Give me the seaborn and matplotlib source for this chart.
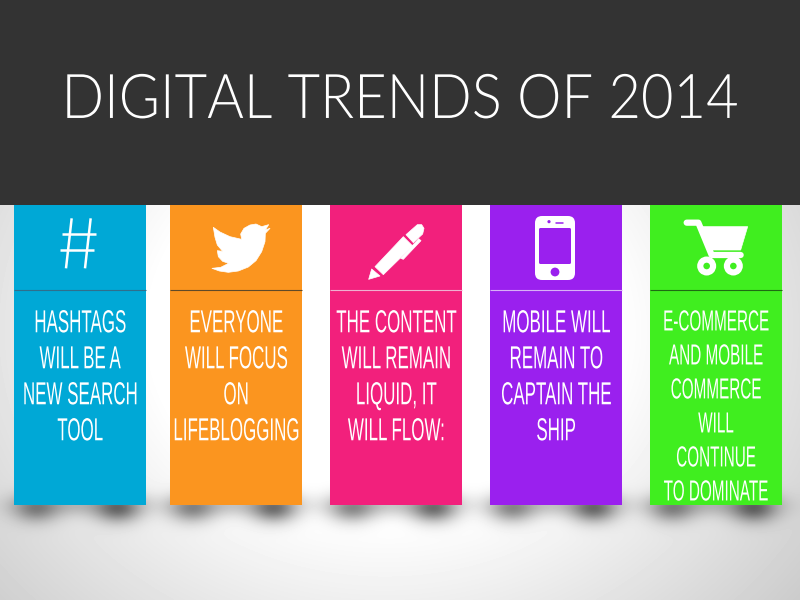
import matplotlib
matplotlib.use('Agg')
import matplotlib.pyplot as plt
import matplotlib.patheffects as pe
from matplotlib.patches import Polygon, FancyBboxPatch, Circle, Rectangle
from matplotlib.transforms import Affine2D
import numpy as np
import pandas as pd
import seaborn as sns

title = 'DIGITAL TRENDS OF 2014'
card_names = ['hashtags', 'twitter', 'content', 'mobile', 'commerce']
card_lines = [
    ['HASHTAGS', 'WILL BE A', 'NEW SEARCH', 'TOOL'],
    ['EVERYONE', 'WILL FOCUS', 'ON', 'LIFEBLOGGING'],
    ['THE CONTENT', 'WILL REMAIN', 'LIQUID, IT', 'WILL FLOW:'],
    ['MOBILE WILL', 'REMAIN TO', 'CAPTAIN THE', 'SHIP'],
    ['E-COMMERCE', 'AND MOBILE', 'COMMERCE', 'WILL', 'CONTINUE', 'TO DOMINATE'],
]
card_colors = ['#00a8d6', '#fb951f', '#f2207c', '#9a20ee', '#40ee1f']
rule_colors = ['#2f6f8c', '#5f4a28', '#eeb0d0', '#d8b0f6', '#1f6a14']
card_height = [300, 300, 300, 300, 300]

# layout in pixels
card_x = [80, 236, 396, 556, 716]
CARD_W = 132
CARD_TOP = 205
FIG_H = 600


class Tall(pe.AbstractPathEffect):
    # no font here is as condensed as the one on the slide, so make it taller instead
    def __init__(self, y, sy):
        super().__init__()
        self.y0 = FIG_H - y
        self.sy = sy

    def draw_path(self, renderer, gc, tpath, affine, rgbFace=None):
        tall = Affine2D().translate(0, -self.y0).scale(1, self.sy).translate(0, self.y0)
        renderer.draw_path(gc, tpath, affine + tall, rgbFace)


sns.set_theme(style='white')
fig = plt.figure(figsize=(8, 6), dpi=100)
ax = fig.add_axes([0, 0, 1, 1])

# background: soft grey vignette plus the shadows under each card
yy, xx = np.mgrid[0:600, 0:800] + 0.5
r = np.hypot((xx - 385) / 360, (yy - 330) / 300)
shade = 1 - 0.25 * np.clip(r - 0.65, 0, None)
for cx in card_x:
    shade *= 1 - 0.2 * np.exp(-((xx - cx + 2) / 42) ** 2 / 2 - ((yy - 505) / 8) ** 2 / 2)
    for off, depth in [(-44, 0.4), (38, 0.52)]:
        shade *= 1 - depth * np.exp(-((xx - cx - off) / 16) ** 2 / 2 - ((yy - 508) / 10) ** 2 / 2)
ax.imshow(shade, cmap='gray', vmin=0, vmax=1, extent=(0, 800, 600, 0), aspect='auto', zorder=0)

df = pd.DataFrame({'x': card_x, 'height': card_height, 'name': card_names})
sns.barplot(data=df, x='x', y='height', hue='name', palette=dict(zip(card_names, card_colors)),
            native_scale=True, width=CARD_W / 156, dodge=False, legend=False, bottom=CARD_TOP,
            saturation=1, linewidth=0, ax=ax, zorder=2)
ax.set_xlim(0, 800)
ax.set_ylim(600, 0)
ax.axis('off')

ax.add_patch(Rectangle((0, 0), 800, CARD_TOP, color='#333333', lw=0, zorder=3))

title_kw = dict(color='white', ha='center', va='center_baseline', zorder=4,
                family=['Lato', 'DejaVu Sans'], weight=300)
probe = ax.text(400, 96, title, fontsize=43.5, **title_kw)
title_w = probe.get_window_extent(fig.canvas.get_renderer()).width
probe.remove()
title_fit = 676 / title_w
ax.text(400, 96, title, fontsize=43.5 * title_fit, path_effects=[Tall(96, 1.02 / title_fit)], **title_kw)

# rule below the icons and the card text
for cx, rule, lines in zip(card_x, rule_colors, card_lines):
    ax.plot([cx - CARD_W / 2, cx + CARD_W / 2], [289.7, 289.7], color=rule, lw=0.8, zorder=3,
            solid_capstyle='butt')
    long_card = len(lines) > 4
    y0, gap, size, sy = (320, 34, 11.0, 1.9) if long_card else (321, 36, 12.2, 1.88)
    for i, line in enumerate(lines):
        y = y0 + i * gap
        ax.text(cx, y, line, color='white', fontsize=size, ha='center', va='center_baseline',
                family=['Liberation Sans', 'DejaVu Sans'], zorder=4, path_effects=[Tall(y, sy)])


def z1(pts):
    return [(x / 3, 200 + y / 3) for x, y in pts]


def z2(pts):
    return [(320 + x / 3, 200 + y / 3) for x, y in pts]


def white(pts, **kw):
    ax.add_patch(Polygon(pts, closed=True, fc='white', ec='white', lw=0.5, joinstyle='round', zorder=4, **kw))


# hash
for seg in [[(215, 55), (198, 205)], [(272, 55), (255, 205)], [(185, 103), (288, 103)], [(180, 150), (283, 150)]]:
    p = z1(seg)
    ax.plot([p[0][0], p[1][0]], [p[0][1], p[1][1]], color='white', lw=1.8, zorder=4, solid_capstyle='butt')

# bird
white(z1([(636, 205), (662, 202), (686, 190), (668, 184), (655, 170), (652, 152), (668, 154), (652, 135),
          (645, 112), (640, 82), (660, 96), (690, 110), (725, 118), (722, 102), (732, 85), (750, 75),
          (768, 72), (785, 80), (806, 74), (796, 90), (810, 85), (796, 100), (795, 125), (785, 155),
          (768, 182), (745, 201), (715, 213), (685, 217), (658, 213)]))

# pen
white(z2([(146, 238), (155, 207), (180, 228)]))
white(z2([(165, 200), (250, 110), (278, 138), (190, 224)]))
white(z2([(258, 104), (292, 74), (305, 74), (312, 85), (308, 102), (280, 128)]))
white(z2([(242, 175), (250, 178), (303, 122), (296, 116)]))

# phone
(px, py), (qx, qy) = z2([(645, 48), (765, 240)])
ax.add_patch(FancyBboxPatch((px + 6, py + 6), qx - px - 12, qy - py - 12, boxstyle='round,pad=6,rounding_size=7',
                            fc='white', ec='none', zorder=4))
(px, py), (qx, qy) = z2([(657, 84), (753, 192)])
ax.add_patch(FancyBboxPatch((px + 1, py + 1), qx - px - 2, qy - py - 2, boxstyle='round,pad=1,rounding_size=1.5',
                            fc=card_colors[3], ec='none', zorder=5))
ax.add_patch(Circle(z2([(705, 216)])[0], 4.4, fc=card_colors[3], ec='none', zorder=5))
ax.add_patch(Circle(z2([(687, 65)])[0], 1.6, fc=card_colors[3], ec='none', zorder=5))
p = z2([(707, 69), (730, 69)])
ax.plot([p[0][0], p[1][0]], [p[0][1], p[1][1]], color=card_colors[3], lw=1.1, zorder=5)

# cart
p = z2([(1100, 68), (1135, 68), (1175, 165), (1262, 165)])
ax.plot([q[0] for q in p], [q[1] for q in p], color='white', lw=4.5, zorder=4, solid_capstyle='round',
        solid_joinstyle='round')
white(z2([(1140, 80), (1283, 80), (1262, 150), (1165, 150)]))
for wx in [1160, 1240]:
    c = z2([(wx, 198)])[0]
    ax.add_patch(Circle(c, 9.5, fc='white', ec='none', zorder=4))
    ax.add_patch(Circle(c, 3.3, fc=card_colors[4], ec='none', zorder=5))

fig.savefig('out.png', dpi=100)
